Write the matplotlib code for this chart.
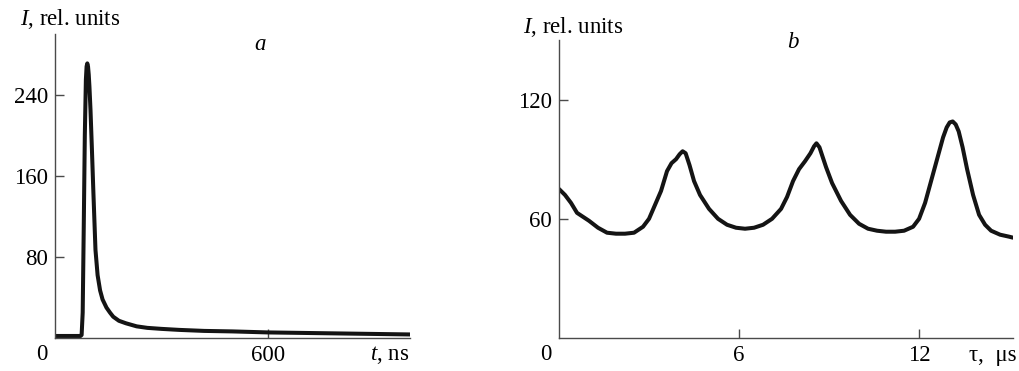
import matplotlib
matplotlib.use("Agg")
import matplotlib.pyplot as plt

# ---- Panel a data (t in ns, I in rel. units) ----
t_ns = [0, 20, 40, 60, 72, 75, 78, 81, 84, 87, 89, 91, 93, 95, 97, 100, 104, 108, 114, 120,
        127, 134, 145, 155, 164, 180, 200, 230, 260, 300, 350, 420, 500, 600, 700, 800,
        900, 1000]
I_a = [2, 2, 2, 2, 2, 3, 25, 110, 200, 255, 268, 271, 268, 260, 248, 225, 186, 145, 87, 62,
       47, 38, 30, 25, 21, 17, 14.5, 11.5, 10, 9, 8, 7, 6.5, 5.5, 5, 4.5, 4, 3.5]

# ---- Panel b data (tau in us, I in rel. units) ----
tau_us = [0, 0.2, 0.4, 0.6, 0.8, 1.0, 1.3, 1.6, 1.9, 2.2, 2.5, 2.8, 3.0, 3.2, 3.4, 3.6,
          3.75, 3.9, 4.02, 4.12, 4.22, 4.35, 4.5, 4.7, 5.0, 5.3, 5.6, 5.9, 6.2, 6.5, 6.8,
          7.1, 7.4, 7.6, 7.8, 8.0, 8.2, 8.38, 8.5, 8.58, 8.68, 8.9, 9.1, 9.4, 9.7, 10.0,
          10.3, 10.6, 10.9, 11.2, 11.5, 11.8, 12.0, 12.2, 12.4, 12.6, 12.8, 12.92, 13.02,
          13.12, 13.22, 13.32, 13.45, 13.6, 13.8, 14.0, 14.2, 14.4, 14.7, 15.0, 15.13]
I_b = [75, 72, 68, 63, 61, 59, 55.5, 53, 52.5, 52.5, 53, 56, 60, 67, 74, 84,
       88, 90, 92.5, 94, 93, 87, 79, 72, 65, 60, 57, 55.5, 55, 55.5, 57,
       60, 65, 71, 79, 85, 89, 93, 96.5, 98, 96, 86, 78, 69, 62, 57.5,
       55, 54, 53.5, 53.5, 54, 56, 60, 68, 79, 90, 101, 106, 108.5,
       109, 107.5, 104, 96, 85, 72, 62, 57, 54, 52, 51, 50.5]

# ---- Tick values / labels ----
a_yticks = [80, 160, 240]
a_xticks = [600]
b_yticks = [60, 120]
b_xticks = [6, 12]

plt.rcParams['font.family'] = ['Liberation Serif', 'DejaVu Serif']
plt.rcParams['mathtext.fontset'] = 'custom'
plt.rcParams['mathtext.rm'] = 'Liberation Serif'
plt.rcParams['mathtext.it'] = 'Liberation Serif:italic'

FS = 16.5
AX_COLOR = '#4a4a4a'
LINE_COLOR = '#141414'

fig = plt.figure(figsize=(10.2, 3.71), dpi=100)
W, H = 1020, 371

def px_axes(x0, x1, ytop, ybot):
    return fig.add_axes([x0 / W, 1 - ybot / H, (x1 - x0) / W, (ybot - ytop) / H])

axa = px_axes(55, 410, 34, 338)
axb = px_axes(559, 1013, 40, 338)

for ax in (axa, axb):
    for s in ('top', 'right'):
        ax.spines[s].set_visible(False)
    for s in ('left', 'bottom'):
        ax.spines[s].set_color(AX_COLOR)
        ax.spines[s].set_linewidth(1.0)
    ax.tick_params(direction='in', length=6.5, width=1.0, color=AX_COLOR,
                   labelsize=FS, pad=5)
    ax.tick_params(axis='x', pad=5)

# Panel a
axa.plot(t_ns, I_a, color=LINE_COLOR, lw=2.9, solid_joinstyle='round',
         solid_capstyle='round')
axa.set_xlim(0, 1000)
axa.set_ylim(0, 300)
axa.set_yticks(a_yticks)
axa.set_yticklabels([str(v) for v in a_yticks])
axa.set_xticks(a_xticks)
axa.set_xticklabels([str(v) for v in a_xticks])

# Panel b
axb.plot(tau_us, I_b, color=LINE_COLOR, lw=2.9, solid_joinstyle='round',
         solid_capstyle='round')
axb.set_xlim(0, 15.13)
axb.set_ylim(0, 150)
axb.set_yticks(b_yticks)
axb.set_yticklabels([str(v) for v in b_yticks])
axb.set_xticks(b_xticks)
axb.set_xticklabels([str(v) for v in b_xticks])

# Texts in figure pixel coords
def ftext(x, y, s, **kw):
    fig.text(x / W, 1 - y / H, s, fontsize=FS, **kw)

ftext(20, 19, r'$I$, rel. units', ha='left', va='center')
ftext(523, 27, r'$I$, rel. units', ha='left', va='center')
ftext(260, 45, 'a', style='italic', ha='center', va='center')
ftext(793, 43, 'b', style='italic', ha='center', va='center')
ftext(42, 355, '0', ha='center', va='center')
ftext(546, 355, '0', ha='center', va='center')
ftext(409, 355, r'$t$, ns', ha='right', va='center')
ftext(1017, 355, 'τ,  μs', ha='right', va='center')

fig.savefig('out.png', dpi=100, facecolor='white')
